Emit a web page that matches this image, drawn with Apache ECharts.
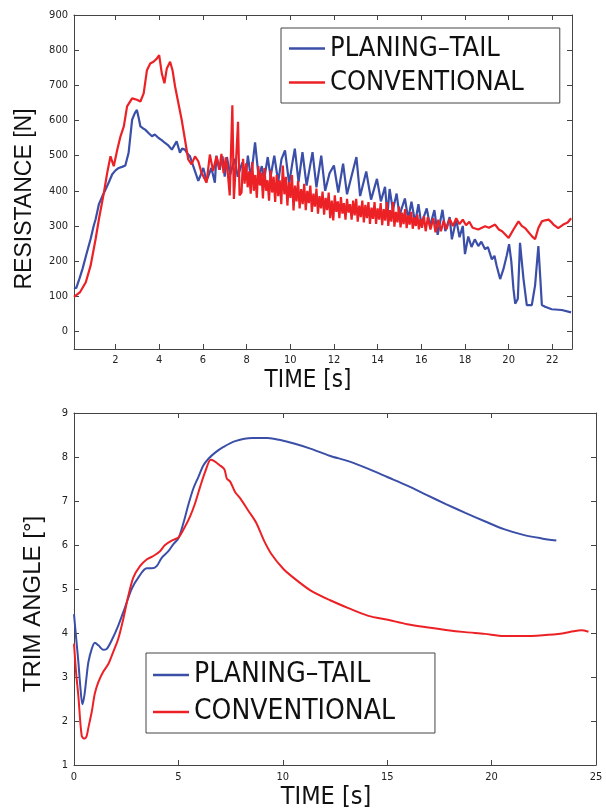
<!DOCTYPE html>
<html>
<head>
<meta charset="utf-8">
<script src="https://cdn.jsdelivr.net/npm/echarts@6/dist/echarts.min.js"></script>
<style>html,body{margin:0;padding:0;background:#fff}#c{width:606px;height:812px}</style>
</head>
<body>
<div id="c"></div>
<script>
// ---------- DATA ----------
const seriesNames = ['PLANING\u2013TAIL', 'CONVENTIONAL'];
const resYTicks = [0, 100, 200, 300, 400, 500, 600, 700, 800, 900];
const resXTicks = [2, 4, 6, 8, 10, 12, 14, 16, 18, 20, 22];
const trimYTicks = [1, 2, 3, 4, 5, 6, 7, 8, 9];
const trimXTicks = [0, 5, 10, 15, 20, 25];

// Resistance [N] vs time [s]
const resPlaning = [[0.1,125],[0.2,123],[0.35,150],[0.49,178],[0.65,215],[0.86,263],[1.0,300],[1.09,319],[1.24,362],[1.4,385],[1.55,404],[1.7,425],[1.85,447],[2.0,458],[2.15,465],[2.3,468],[2.45,472],[2.6,508],[2.76,602],[2.88,620],[2.98,630],[3.07,605],[3.14,583],[3.25,578],[3.36,574],[3.5,565],[3.67,555],[3.8,560],[3.97,550],[4.1,545],[4.27,536],[4.4,530],[4.58,517],[4.7,530],[4.8,541],[4.95,508],[5.05,520],[5.18,517],[5.3,505],[5.41,498],[5.56,470],[5.79,428],[5.9,445],[6.02,465],[6.17,428],[6.3,450],[6.39,465],[6.55,423],[6.62,500],[6.77,460],[6.9,498],[7.0,440],[7.1,496],[7.25,445],[7.45,491],[7.6,440],[7.8,480],[7.95,430],[8.06,500],[8.2,435],[8.39,538],[8.55,440],[8.7,470],[8.8,430],[8.97,496],[9.1,440],[9.27,500],[9.45,425],[9.6,490],[9.76,515],[9.95,420],[10.1,480],[10.21,520],[10.38,425],[10.56,510],[10.75,415],[11.02,510],[11.2,410],[11.42,500],[11.6,400],[11.8,450],[12.0,472],[12.2,395],[12.42,477],[12.6,390],[12.8,440],[13.03,496],[13.2,385],[13.48,455],[13.7,375],[13.97,434],[14.15,370],[14.34,411],[14.45,330],[14.55,405],[14.7,345],[14.87,392],[15.0,330],[15.25,378],[15.4,320],[15.55,369],[15.72,310],[15.87,362],[16.0,305],[16.25,350],[16.4,300],[16.6,345],[16.75,275],[16.97,346],[17.1,285],[17.3,325],[17.4,262],[17.6,318],[17.75,268],[17.9,300],[18.0,220],[18.15,270],[18.3,240],[18.45,262],[18.61,243],[18.75,255],[18.92,234],[19.05,240],[19.23,205],[19.35,215],[19.45,187],[19.61,149],[19.76,177],[19.91,215],[20.02,248],[20.12,200],[20.22,121],[20.3,79],[20.42,93],[20.52,252],[20.6,200],[20.68,149],[20.83,75],[21.06,75],[21.21,131],[21.36,243],[21.45,150],[21.52,75],[21.67,70],[21.97,63],[22.43,61],[22.86,54]];

const resConventional = [[0.1,98],[0.38,112],[0.64,140],[0.86,187],[1.09,263],[1.24,319],[1.47,395],[1.62,451],[1.77,498],[1.92,470],[2.08,517],[2.23,555],[2.38,583],[2.53,640],[2.76,663],[2.98,659],[3.14,654],[3.29,677],[3.44,743],[3.59,762],[3.74,767],[3.89,776],[4.0,786],[4.12,734],[4.24,706],[4.35,748],[4.5,767],[4.61,743],[4.73,696],[4.88,649],[5.03,602],[5.18,546],[5.33,489],[5.48,475],[5.64,498],[5.79,484],[5.94,451],[6.17,423],[6.32,503],[6.47,456],[6.62,498],[6.75,460],[6.85,505],[6.95,450],[7.05,495],[7.15,444],[7.23,387],[7.35,643],[7.42,377],[7.5,463],[7.61,596],[7.68,387],
[7.77,395],[7.84,491],[7.91,420],[7.98,478],[8.05,410],[8.12,455],[8.19,392],[8.26,482],[8.33,400],[8.40,445],[8.47,380],[8.54,470],[8.61,415],[8.68,452],[8.75,378],[8.82,465],[8.89,400],[8.96,430],[9.03,372],[9.10,458],[9.17,395],[9.24,440],[9.31,368],[9.38,445],[9.45,385],[9.52,430],[9.59,362],[9.66,472],[9.73,390],[9.80,440],[9.87,358],[9.94,425],[10.01,380],[10.08,445],[10.15,344],[10.22,415],[10.29,370],[10.36,428],[10.43,350],[10.50,405],[10.57,362],[10.64,420],[10.71,345],[10.78,400],[10.85,365],[10.92,415],[10.99,340],[11.06,392],[11.13,355],[11.20,406],[11.27,335],[11.34,385],[11.41,350],[11.48,398],[11.55,332],[11.62,380],[11.69,345],[11.76,395],[11.83,322],[11.90,372],[11.97,316],[12.04,387],[12.11,340],[12.18,370],[12.25,322],[12.32,382],[12.39,335],[12.46,365],[12.53,318],[12.60,377],[12.67,338],[12.74,362],[12.81,318],[12.88,372],[12.95,330],[13.02,377],[13.09,312],[13.16,358],[13.23,325],[13.30,372],[13.37,310],[13.44,360],[13.51,322],[13.58,368],[13.65,306],[13.72,352],[13.79,320],[13.86,368],[13.93,306],[14.00,350],[14.07,318],[14.14,365],[14.21,302],[14.28,348],[14.35,315],[14.42,368],[14.49,300],[14.56,345],[14.63,312],[14.70,368],[14.77,298],[14.84,340],[14.91,310],[14.98,355],[15.05,296],[15.12,338],[15.19,305],[15.26,348],[15.33,294],[15.40,330],[15.47,304],[15.54,340],[15.61,292],[15.68,325],[15.75,300],[15.82,332],[15.89,290],[15.96,320],[16.03,295],[16.12,328],[16.2,285],[16.3,325],[16.42,290],[16.55,322],[16.65,282],[16.78,318],[16.9,285],[17.02,315],[17.15,290],[17.3,320],[17.45,300],[17.6,322],[17.75,305],[17.9,318],[18.05,302],[18.2,312],[18.35,295],[18.61,290],[18.92,299],[19.1,295],[19.38,304],[19.55,290],[19.7,285],[20.0,266],[20.22,290],[20.45,313],[20.6,300],[20.75,294],[21.06,271],[21.21,262],[21.36,294],[21.52,313],[21.67,316],[21.83,318],[21.97,310],[22.05,304],[22.27,294],[22.5,304],[22.7,310],[22.86,322]];

// Trim angle [deg] vs time [s]
const trimPlaning = [[0,4.43],[0.1,3.9],[0.21,3.34],[0.3,2.8],[0.4,2.38],[0.5,2.59],[0.6,3.0],[0.69,3.34],[0.85,3.64],[1.0,3.78],[1.17,3.72],[1.4,3.62],[1.57,3.64],[1.8,3.83],[2.12,4.17],[2.44,4.58],[2.76,5.0],[3.08,5.26],[3.48,5.47],[3.72,5.47],[3.96,5.52],[4.2,5.71],[4.52,5.86],[4.76,6.02],[5.0,6.15],[5.24,6.5],[5.48,6.92],[5.72,7.29],[5.96,7.55],[6.2,7.81],[6.44,7.96],[6.76,8.1],[7.16,8.23],[7.72,8.36],[8.53,8.43],[9.28,8.43],[9.83,8.39],[10.58,8.30],[11.32,8.19],[12.24,8.03],[13.17,7.90],[14.1,7.73],[15.03,7.54],[15.96,7.35],[16.88,7.14],[17.81,6.93],[18.74,6.73],[19.67,6.54],[20.59,6.36],[21.52,6.23],[22.4,6.15],[23.1,6.1]];

const trimConventional = [[0,3.76],[0.1,3.1],[0.21,2.56],[0.37,1.66],[0.5,1.6],[0.6,1.65],[0.69,1.85],[0.85,2.21],[1.0,2.63],[1.17,2.89],[1.4,3.12],[1.65,3.3],[1.88,3.57],[2.12,3.87],[2.36,4.32],[2.6,4.84],[2.84,5.26],[3.16,5.52],[3.48,5.67],[3.8,5.75],[4.12,5.86],[4.36,6.0],[4.68,6.1],[5.0,6.17],[5.32,6.42],[5.56,6.65],[5.8,6.95],[6.04,7.32],[6.28,7.66],[6.55,7.94],[6.7,7.91],[6.96,7.82],[7.2,7.72],[7.32,7.51],[7.48,7.44],[7.72,7.2],[7.98,7.05],[8.35,6.78],[8.72,6.51],[9.1,6.1],[9.46,5.79],[10.02,5.46],[10.58,5.23],[11.32,4.97],[12.24,4.75],[13.17,4.56],[14.1,4.39],[15.03,4.3],[15.96,4.2],[16.88,4.13],[17.81,4.07],[18.74,4.02],[19.67,3.98],[20.59,3.93],[21.52,3.93],[22.45,3.95],[23.38,3.99],[23.93,4.04],[24.3,4.06],[24.64,4.03]];

// ---------- STYLE ----------
const BLUE = '#3b4fa8';
const RED = '#ec2126';
const AXC = '#444';
const NARROW = "'Liberation Sans Narrow', 'DejaVu Sans Condensed', sans-serif";
const SANS = "'Liberation Sans', Arial, sans-serif";

function frameAxis(gridIndex, pos, min, max, ticks, showLabel, labelMargin) {
  return {
    type: 'value', gridIndex: gridIndex, position: pos, min: min, max: max,
    axisLine: { show: true, onZero: false, lineStyle: { color: AXC, width: 1 } },
    axisTick: { show: true, inside: true, length: 5, customValues: ticks, lineStyle: { color: AXC } },
    axisLabel: { show: showLabel, customValues: ticks, margin: labelMargin || 6, color: '#222', fontSize: 11, fontFamily: NARROW },
    splitLine: { show: false }
  };
}

const chart = echarts.init(document.getElementById('c'), null, { renderer: 'canvas' });
const legendCommon = {
  orient: 'vertical', icon: 'rect', itemWidth: 36, itemHeight: 2.5,
  borderColor: AXC, borderWidth: 1, backgroundColor: '#fff', borderRadius: 0,
  data: seriesNames
};
chart.setOption({
  animation: false,
  backgroundColor: '#fff',
  grid: [
    { left: 74, right: 34, top: 15, height: 334 },
    { left: 74, right: 10, top: 413, height: 352 }
  ],
  xAxis: [
    frameAxis(0, 'bottom', 0.1, 22.9, resXTicks, true, 6),
    frameAxis(0, 'top', 0.1, 22.9, resXTicks, false),
    frameAxis(1, 'bottom', 0, 25, trimXTicks, true, 7),
    frameAxis(1, 'top', 0, 25, trimXTicks, false)
  ],
  yAxis: [
    frameAxis(0, 'left', -50, 900, resYTicks, true, 6),
    frameAxis(0, 'right', -50, 900, resYTicks, false),
    frameAxis(1, 'left', 1, 9, trimYTicks, true, 6),
    frameAxis(1, 'right', 1, 9, trimYTicks, false)
  ],
  legend: [
    Object.assign({}, legendCommon, { left: 281, top: 28, itemGap: 7, padding: [7, 36, 7, 8],
      textStyle: { fontSize: 27, fontFamily: NARROW, color: '#111' } }),
    Object.assign({}, legendCommon, { left: 146, top: 653, itemGap: 9, padding: [8, 40, 7, 7],
      textStyle: { fontSize: 28, fontFamily: NARROW, color: '#111' } })
  ],
  series: [
    { name: seriesNames[0], type: 'line', xAxisIndex: 0, yAxisIndex: 0, data: resPlaning, showSymbol: false, symbol: 'none', color: BLUE, lineStyle: { width: 2.2, color: BLUE } },
    { name: seriesNames[1], type: 'line', xAxisIndex: 0, yAxisIndex: 0, data: resConventional, showSymbol: false, symbol: 'none', color: RED, lineStyle: { width: 2.2, color: RED } },
    { name: seriesNames[0], type: 'line', xAxisIndex: 2, yAxisIndex: 2, data: trimPlaning, showSymbol: false, symbol: 'none', smooth: 0.3, color: BLUE, lineStyle: { width: 2, color: BLUE } },
    { name: seriesNames[1], type: 'line', xAxisIndex: 2, yAxisIndex: 2, data: trimConventional, showSymbol: false, symbol: 'none', smooth: 0.3, color: RED, lineStyle: { width: 2, color: RED } }
  ],
  graphic: [
    { type: 'text', x: 25, y: 199, rotation: Math.PI / 2, style: { text: 'RESISTANCE [N]', x: 0, y: 0, align: 'center', verticalAlign: 'middle', fontSize: 23, fontFamily: SANS, fill: '#111' } },
    { type: 'text', x: 33, y: 604, rotation: Math.PI / 2, style: { text: 'TRIM ANGLE [\u00b0]', x: 0, y: 0, align: 'center', verticalAlign: 'middle', fontSize: 24, fontFamily: SANS, fill: '#111' } },
    { type: 'text', x: 308, y: 381, style: { text: 'TIME [s]', x: 0, y: 0, align: 'center', verticalAlign: 'middle', fontSize: 24, fontFamily: NARROW, fill: '#111' } },
    { type: 'text', x: 326, y: 797, style: { text: 'TIME [s]', x: 0, y: 0, align: 'center', verticalAlign: 'middle', fontSize: 25, fontFamily: NARROW, fill: '#111' } }
  ]
});
</script>
</body>
</html>
